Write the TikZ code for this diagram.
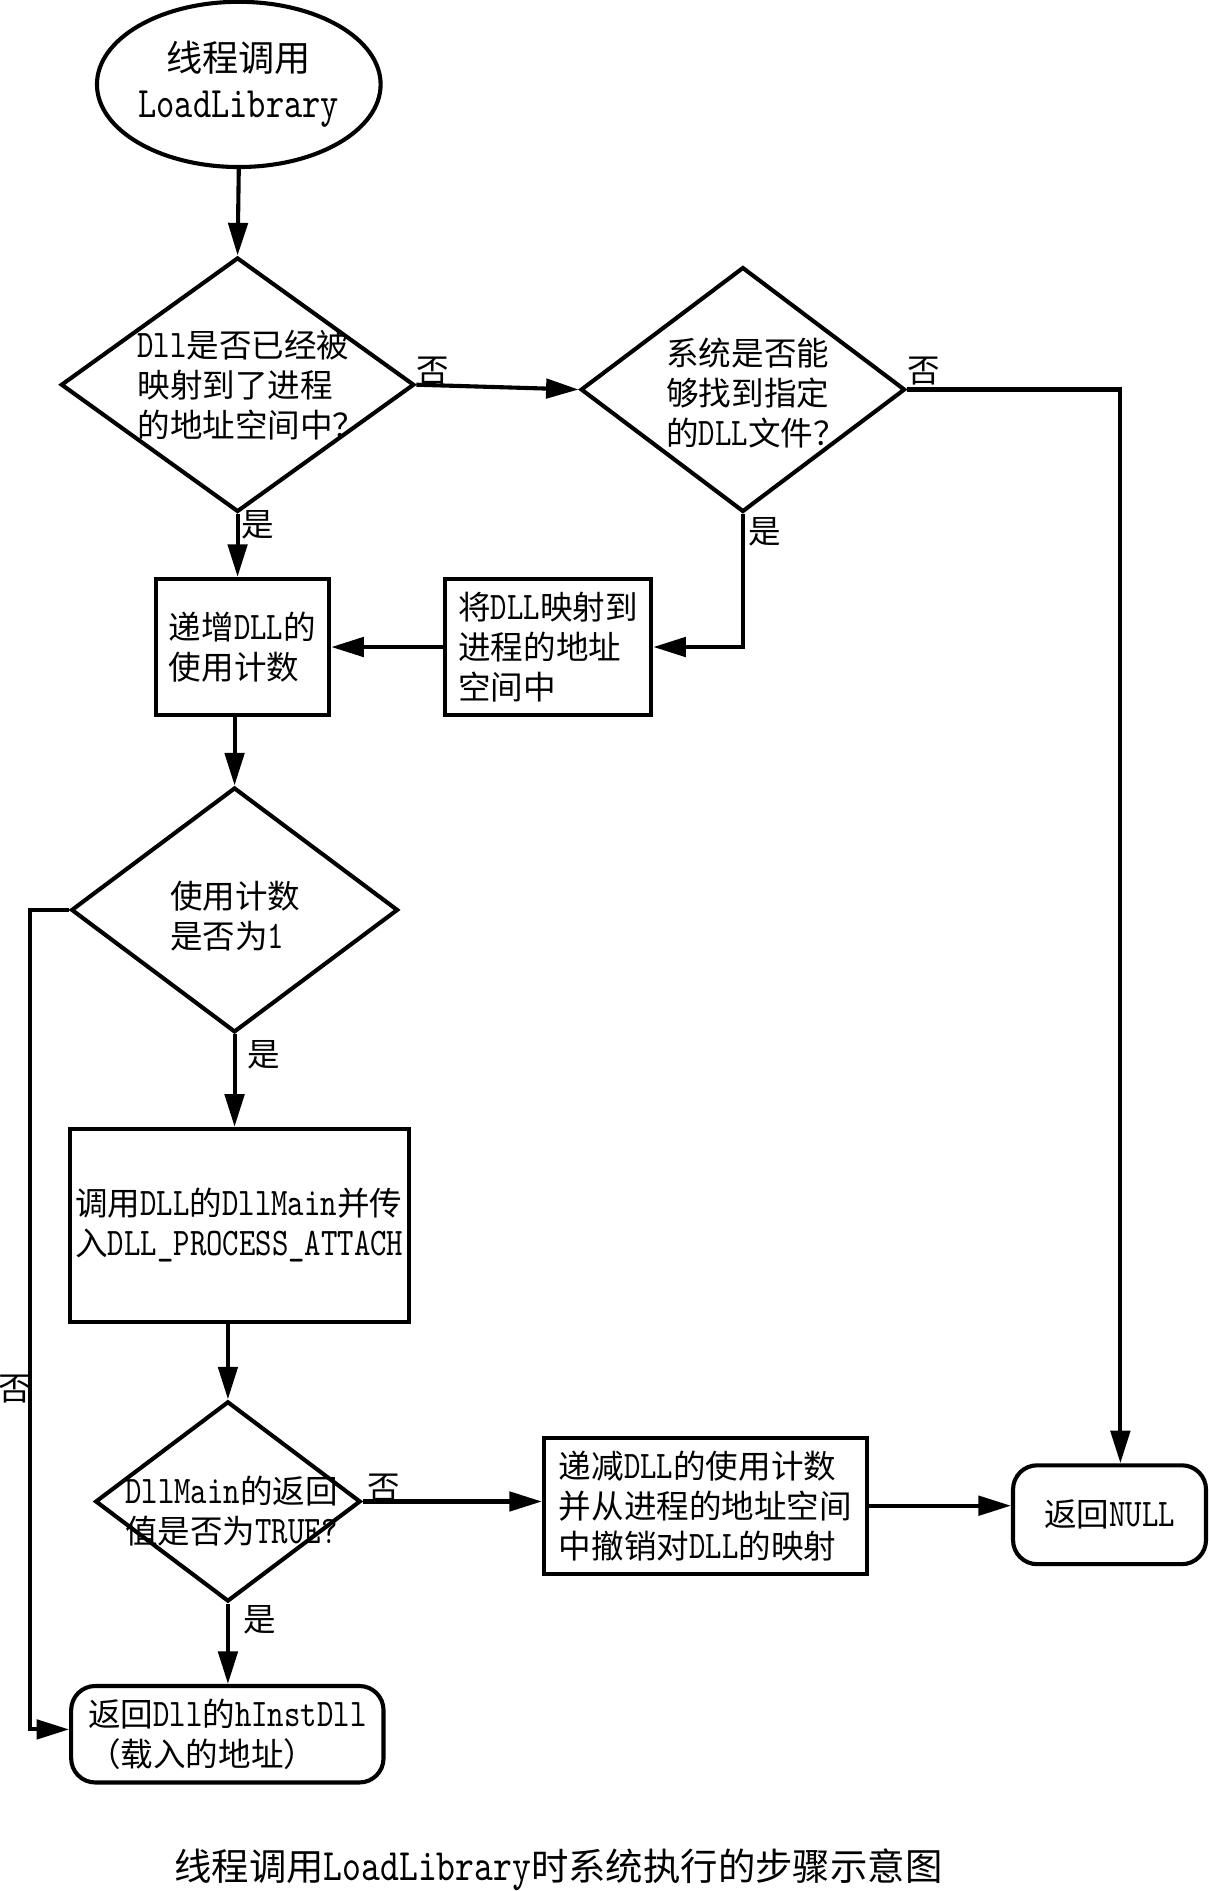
\documentclass[tikz,border=0pt]{standalone}
\usepackage{fontspec}
\setmainfont{Noto Sans CJK SC}
\newfontfamily\lat[Scale=1.2,FakeStretch=0.8]{lmmono10-regular.otf}
\usetikzlibrary{shapes.geometric,arrows.meta}
\newcommand\bodyfont{\fontsize{13.5pt}{16.6pt}\selectfont}
\newcommand\bigfont{\fontsize{15pt}{19pt}\selectfont}
\newcommand\capfont{\fontsize{15.5pt}{19pt}\selectfont}
\tikzset{
  base/.style={draw=black, line width=1.7pt},
  boxnode/.style={base, rectangle, inner sep=0pt, align=left, font=\bodyfont},
  rbox/.style={boxnode, rounded corners=10pt},
  dia/.style={base, diamond, inner sep=0pt},
  txt/.style={align=left, inner sep=0pt, font=\bodyfont},
  lbl/.style={inner sep=0pt, font=\bodyfont},
  conn/.style={line width=1.7pt, -{Triangle[length=13.5pt,width=8pt]}},
}
\begin{document}
\begin{tikzpicture}[x=0.5pt,y=-0.5pt]
\useasboundingbox[fill=white] (0,0) rectangle (1002,1568);

% start
\node[base, ellipse, minimum width=113pt, minimum height=68.5pt, inner sep=0pt,
      align=center, font=\bigfont] (e0) at (198,70) {线程调用\\{\lat LoadLibrary}};

% decision 1
\node[dia, minimum width=146.5pt, minimum height=105.5pt] (d1) at (197,319) {};
\node[txt] (d1t) at (208.5,319) {{\lat Dll}是否已经被\\映射到了进程\\的地址空间中？};

% decision 2
\node[dia, minimum width=134.5pt, minimum height=101.5pt] (d2) at (616,323) {};
\node[txt] (d2t) at (627,326) {系统是否能\\够找到指定\\的{\lat DLL}文件？};

% boxes
\node[boxnode, minimum width=85.5pt, minimum height=56.5pt] (b2) at (454.5,536.5)
  {将{\lat DLL}映射到\\进程的地址\\空间中};
\node[boxnode, minimum width=72pt, minimum height=56.5pt] (b1) at (201,536.5)
  {递增{\lat DLL}的\\使用计数};

% decision 3
\node[dia, minimum width=135.5pt, minimum height=101.5pt] (d3) at (194.5,754.5) {};
\node[txt] (d3t) at (195,759.5) {使用计数\\是否为{\lat 1}};

\node[boxnode, minimum width=140.5pt, minimum height=80pt] (b3) at (198.5,1016)
  {调用{\lat DLL}的{\lat DllMain}并传\\入{\lat DLL\_PROCESS\_ATTACH}};

% decision 4
\node[dia, minimum width=110pt, minimum height=83pt] (d4) at (189,1245) {};
\node[txt] (d4t) at (192,1253) {{\lat DllMain}的返回\\值是否为{\lat TRUE?}};

\node[boxnode, minimum width=134pt, minimum height=56.5pt] (b4) at (585,1248.5)
  {递减{\lat DLL}的使用计数\\并从进程的地址空间\\中撤销对{\lat DLL}的映射};

\node[rbox, minimum width=80pt, minimum height=41pt] (b6) at (920,1256) {返回{\lat NULL}};
\node[rbox, minimum width=129.5pt, minimum height=40pt] (b5) at (188.5,1438)
  {返回{\lat Dll}的{\lat hInstDll}\\（载入的地址）};

% caption
\node[inner sep=0pt, font=\capfont] (cap) at (463,1550)
  {线程调用{\lat LoadLibrary}时系统执行的步骤示意图};

% labels
\node[lbl] (l1) at (359,308) {否};
\node[lbl] (l2) at (766,308) {否};
\node[lbl] (l3) at (634,441) {是};
\node[lbl] (l4) at (214,435) {是};
\node[lbl] (l5) at (219,875) {是};
\node[lbl] (l6) at (12,1152) {否};
\node[lbl] (l7) at (318,1234) {否};
\node[lbl] (l8) at (215,1343) {是};

\coordinate (cl) at (25,752);

% connectors
\draw[conn] (e0.south) -- (d1.north);
\draw[conn] (d1.east) -- (d2.west);
\draw[conn] (d2.east) -| ([xshift=4.5pt]b6.north);
\draw[conn] (d2.south) |- (b2.east);
\draw[conn] (b2.west) -- (b1.east);
\draw[conn] (d1.south) -- (d1.south |- b1.north);
\draw[conn] (d3.north |- b1.south) -- (d3.north);
\draw[conn] (d3.south) -- (d3.south |- b3.north);
\draw[conn] (d3.west) -- (d3.west -| cl) |- ([yshift=2pt]b5.west);
\draw[conn] (b3.south -| d4.north) -- (d4.north);
\draw[conn] (d4.east) -- (d4.east -| b4.west);
\draw[conn] (b4.east) -- (b4.east -| b6.west);
\draw[conn] (d4.south) -- (d4.south |- b5.north);
\end{tikzpicture}
\end{document}
